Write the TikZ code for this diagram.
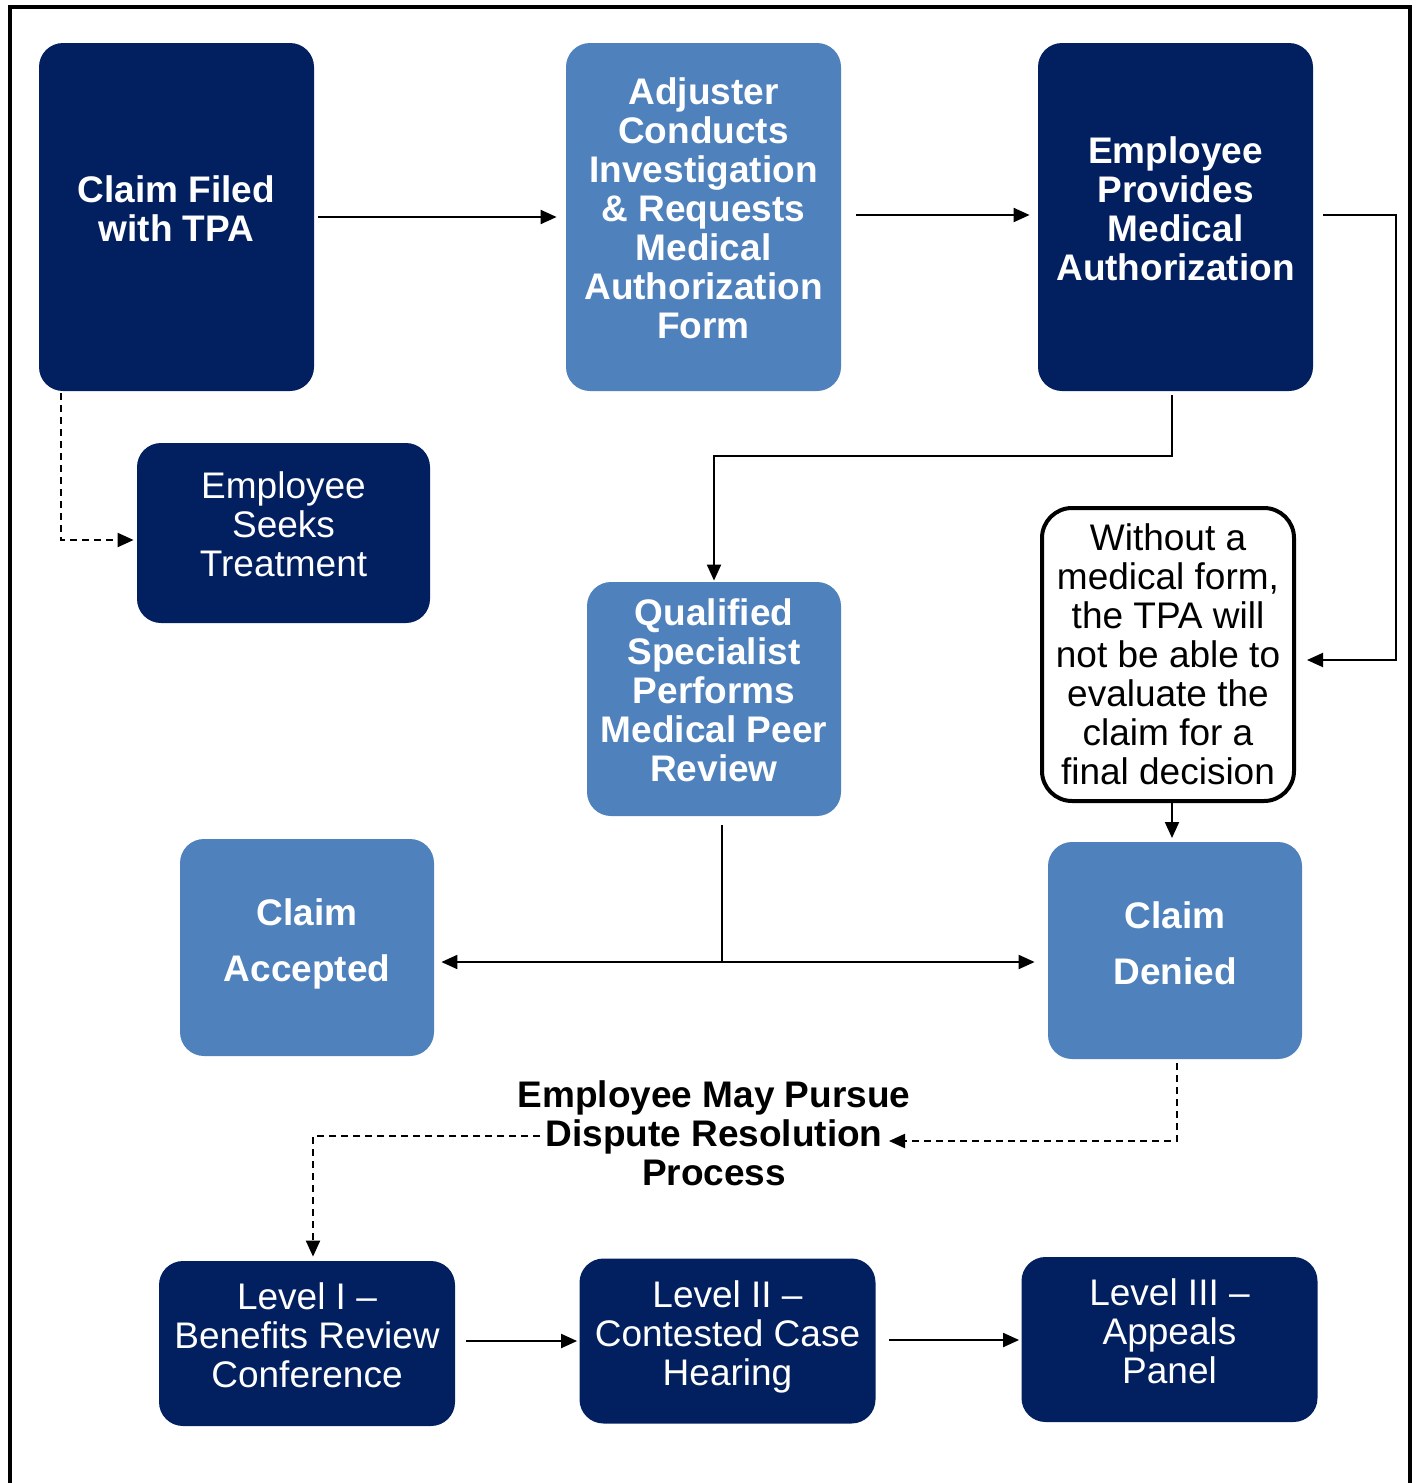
\documentclass[tikz,border=0pt]{standalone}
\usepackage{fontspec}
\setmainfont{Liberation Sans}
\usetikzlibrary{arrows.meta,calc}
\definecolor{navy}{RGB}{2,32,96}
\definecolor{lightblue}{RGB}{79,129,189}
\begin{document}
\begin{tikzpicture}[x=0.5pt,y=-0.5pt,
  box/.style={rounded corners=12pt, inner sep=0pt, minimum width=137.5pt, minimum height=174pt},
  dark/.style={box, fill=navy},
  light/.style={box, fill=lightblue},
  small/.style={minimum width=127pt, minimum height=108.5pt},
  lvl/.style={minimum width=148pt, minimum height=82.5pt},
  txtb/.style={text=white, align=center, inner sep=0pt, font=\fontsize{18.5pt}{19.5pt}\selectfont\bfseries},
  txtr/.style={text=white, align=center, inner sep=0pt, font=\fontsize{18.5pt}{19.5pt}\selectfont},
  conn/.style={line width=1pt, -{Triangle[length=8pt,width=7pt]}},
  dconn/.style={conn, dash pattern=on 3.5pt off 2.5pt}]
\useasboundingbox (0,0) rectangle (1420,1483);
% outer frame
\draw[line width=2pt] (9.5,1500) -- (9.5,7) -- (1409.5,7) -- (1409.5,1500);

% top row
\node[dark] (a) at (176.5,217) {};
\node[txtb] (at) at ($(a.center)+(0,-8)$) {Claim Filed\\with TPA};
\node[light] (b) at (703.5,217) {};
\node[txtb] (bt) at ($(b.center)+(0,-8.5)$) {Adjuster\\Conducts\\Investigation\\\& Requests\\Medical\\Authorization\\Form};
\node[dark] (c) at (1175.5,217) {};
\node[txtb] (ct) at ($(c.center)+(0,-8.5)$) {Employee\\Provides\\Medical\\Authorization};

% seeks treatment
\node[dark, minimum width=146.5pt, minimum height=90pt] (s) at (283.5,533) {};
\node[txtr] (st) at ($(s.center)+(0,-9)$) {Employee\\Seeks\\Treatment};

% qualified specialist
\node[light, minimum width=127pt, minimum height=117pt] (q) at (714,699) {};
\node[txtb] (qt) at ($(q.center)+(0,-9)$) {Qualified\\Specialist\\Performs\\Medical Peer\\Review};

% note
\node[draw, line width=2pt, fill=white, rounded corners=15pt, minimum width=126pt, minimum height=146.5pt] (n) at (1168,654.5) {};
\node[txtr, text=black] (nt) at (n.center) {Without a\\medical form,\\the TPA will\\not be able to\\evaluate the\\claim for a\\final decision};

% accepted / denied
\node[light, small] (acc) at (307,947.5) {};
\node[txtb] (acct) at ($(acc.center)+(0,-3.5)$) {Claim\\[8.5pt]Accepted};
\node[light, small] (den) at (1175,950.5) {};
\node[txtb] (dent) at ($(den.center)+(0,-7.5)$) {Claim\\[8.5pt]Denied};

% dispute text
\node[txtb, text=black] (p) at (714,1133) {Employee May Pursue\\Dispute Resolution\\Process};
\coordinate (pl) at (540,1136);
\coordinate (pr) at (889,1141);

% levels
\node[dark, lvl] (l1) at (307,1343.5) {};
\node[txtr] (l1t) at ($(l1.center)+(0,-8.5)$) {Level I --\\Benefits Review\\Conference};
\node[dark, lvl] (l2) at (727.5,1341) {};
\node[txtr] (l2t) at ($(l2.center)+(0,-4)$) {Level II --\\Contested Case\\Hearing};
\node[dark, lvl] (l3) at (1169.5,1339.5) {};
\node[txtr] (l3t) at ($(l3.center)+(0,-8)$) {Level III --\\Appeals\\Panel};

% connectors
\draw[conn, shorten <=2pt, shorten >=4.5pt] (a.east) -- (b.west);
\draw[conn, shorten <=7.5pt, shorten >=4pt] ($(b.east)+(0,-2)$) -- ($(c.west)+(0,-2)$);
\draw[conn, shorten <=5pt, shorten >=5.5pt] ($(c.east)+(0,-2)$) -- ++(83,0) |- ($(n.east)+(0,5.5)$);
\draw[conn, shorten <=2pt, shorten >=0.5pt] ($(c.south)+(-3.5,0)$) -- ++(0,65) -| (q.north);
\draw[dconn, shorten <=1pt, shorten >=1.5pt] ($(a.south west)+(22,0)$) |- ($(s.west)+(0,7)$);
\coordinate (j) at (722,962);
\draw[line width=1pt, shorten <=4.5pt] ($(q.south)+(8,0)$) -- (j);
\draw[conn, shorten >=3.5pt] (j) -- (j -| acc.east);
\draw[conn, shorten >=6.5pt] (j) -- (j -| den.west);
\coordinate (nb) at (1172,803);
\coordinate (dt) at (1172,842);
\draw[conn, shorten >=2pt] (nb) -- (dt);
\draw[dconn, shorten <=2pt] ($(den.south)+(2,0)$) |- (pr);
\draw[dconn, shorten >=2pt] (pl) -| ($(l1.north)+(6,0)$);
\draw[conn, shorten <=5.5pt, shorten >=1pt] ($(l1.east)+(0,-2.5)$) -- ($(l2.west)+(0,0)$);
\draw[conn, shorten <=6.5pt, shorten >=1pt] ($(l2.east)+(0,-1)$) -- ($(l3.west)+(0,0.5)$);
\end{tikzpicture}
\end{document}
